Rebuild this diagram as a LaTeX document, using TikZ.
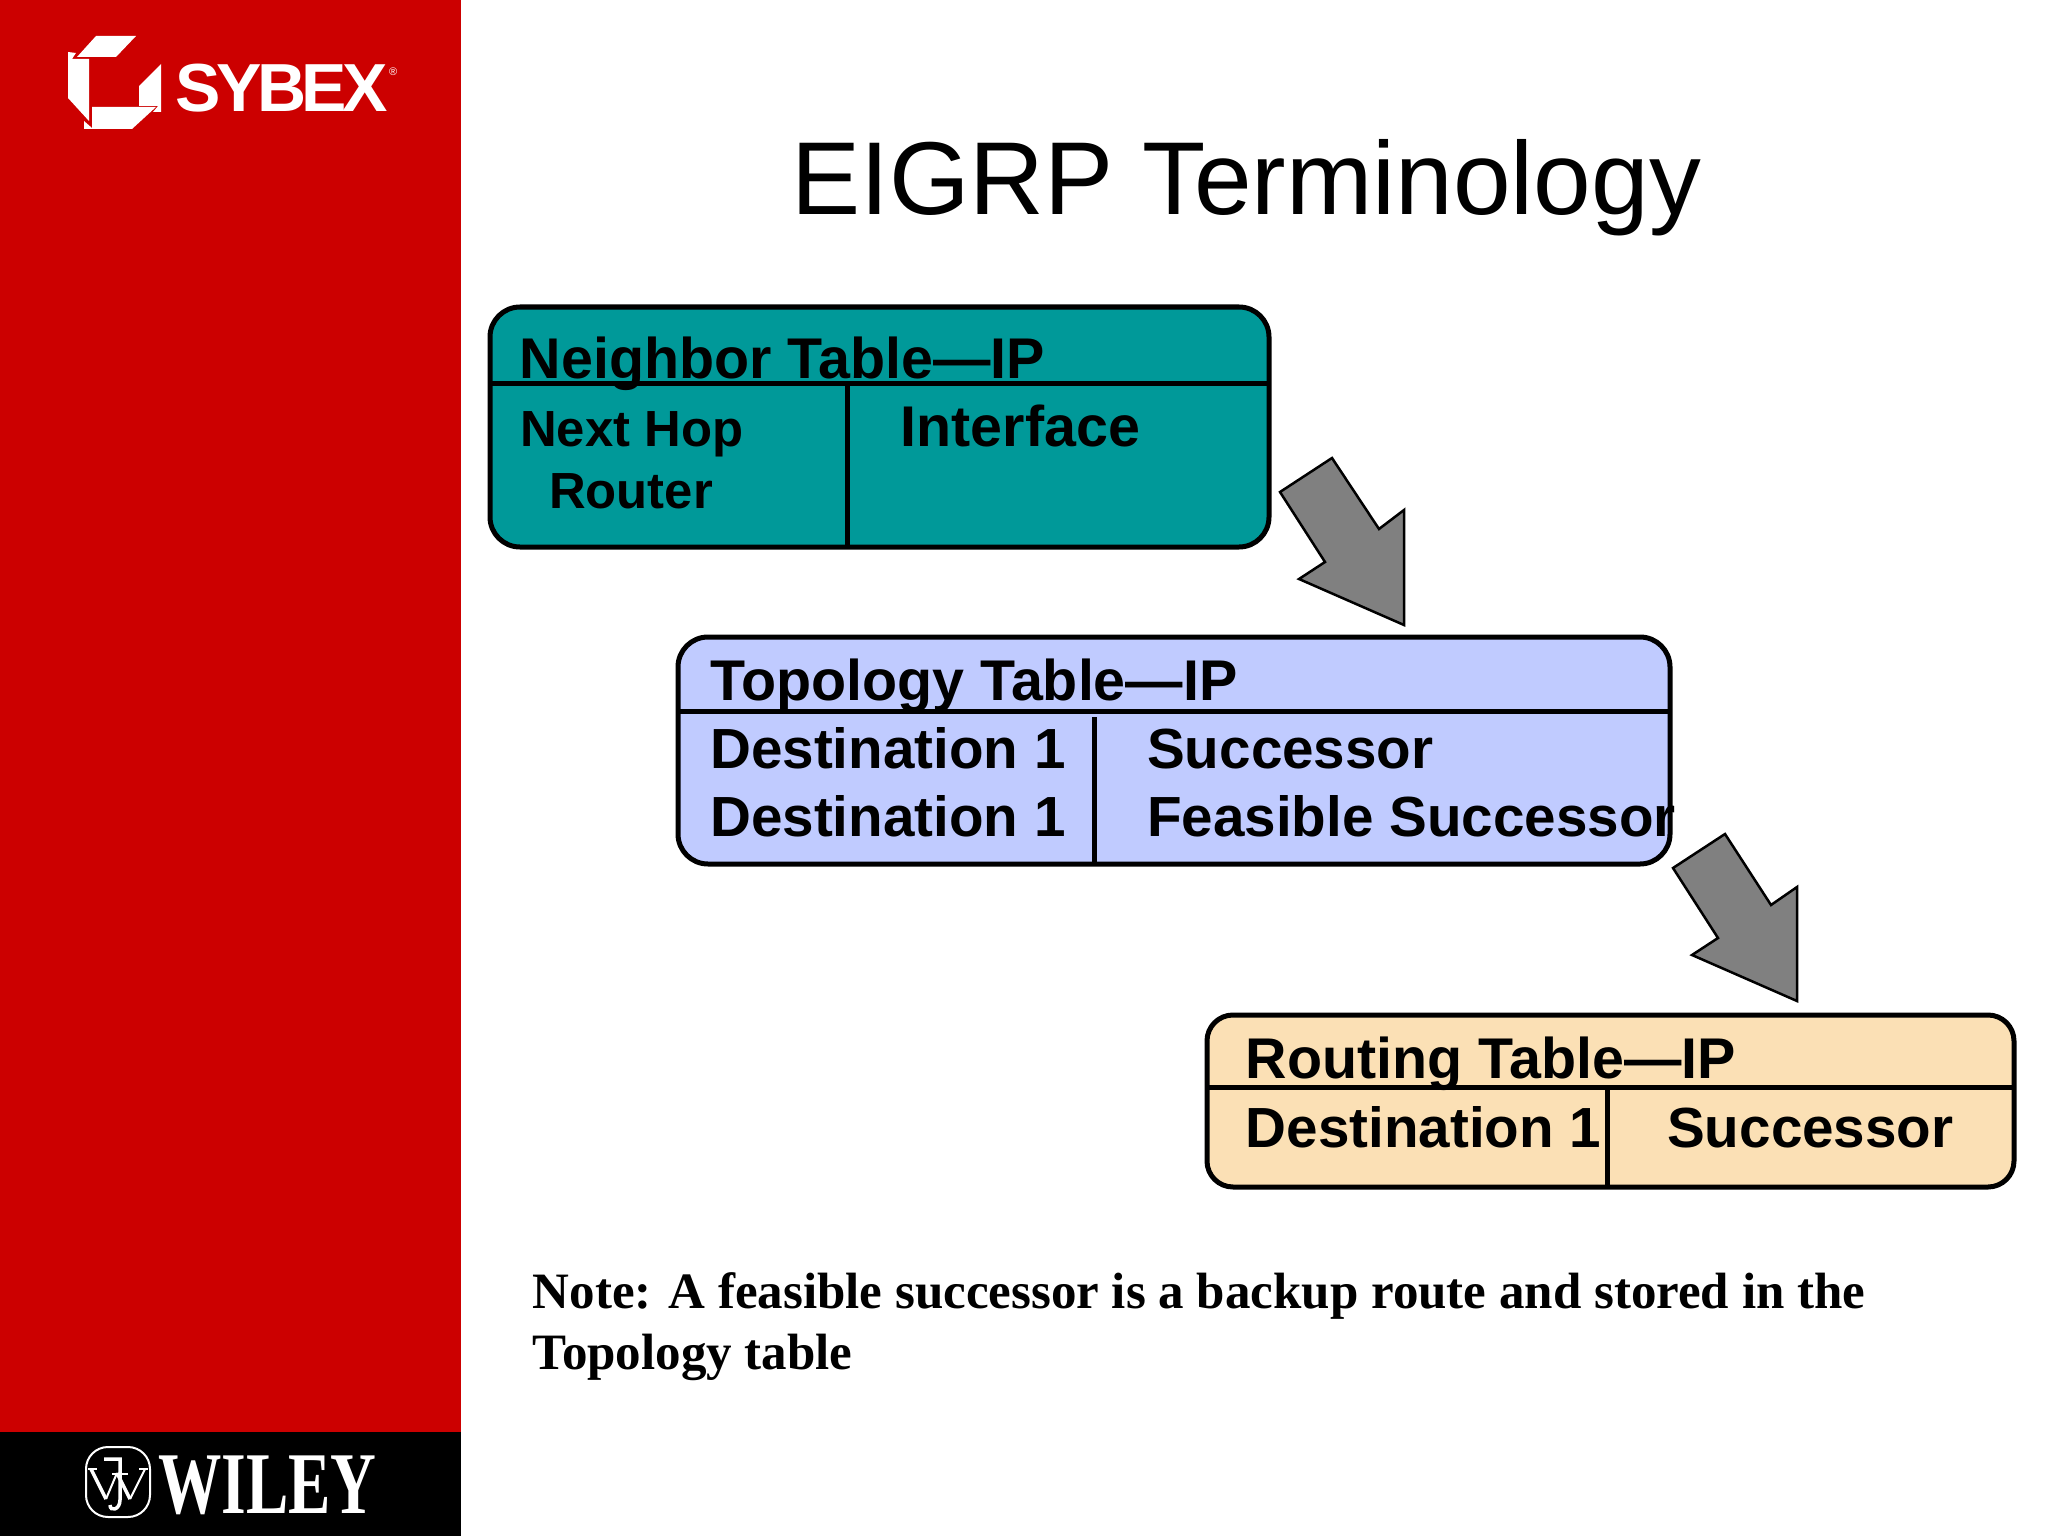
\documentclass[tikz,border=0pt]{standalone}
\usepackage{fontspec}
\setmainfont{Liberation Sans}
\newfontfamily\notefont{Liberation Serif}
\newfontfamily\logofont[LetterSpace=-6.5]{Liberation Sans}
\definecolor{panelred}{HTML}{CC0000}
\definecolor{tealfill}{HTML}{009999}
\definecolor{bluefill}{HTML}{C0CBFF}
\definecolor{tanfill}{HTML}{FBE0B5}
\definecolor{arrowgray}{HTML}{808080}
\tikzset{
	tablebox/.style={draw=black, line width=5bp, rounded corners=30bp, inner sep=0, outer sep=0},
	tablerule/.style={line width=5bp},
	celltext/.style={anchor=base west, inner sep=0, font=\fontsize{56.6bp}{60bp}\selectfont\bfseries},
	headtext/.style={celltext, font=\fontsize{57.4bp}{60bp}\selectfont\bfseries},
	smalltext/.style={celltext, font=\fontsize{50.8bp}{54bp}\selectfont\bfseries},
	notetext/.style={anchor=base west, inner sep=0, font=\fontsize{51bp}{54bp}\selectfont\notefont\bfseries},
	blockarrow/.style={draw=black, line width=2.5bp, fill=arrowgray, line join=miter},
	logoshape/.style={fill=white, draw=none},
	logoline/.style={draw=white, line width=2bp},
	logostem/.style={draw=white, line width=3.5bp}
}
\begin{document}
\begin{tikzpicture}[x=1bp, y=-1bp]
	\useasboundingbox (0,0) rectangle (2048,1536);

	% side panel
	\fill[panelred] (0,0) rectangle (461,1432);
	\fill[black] (0,1432) rectangle (461,1536);

	\fill[logoshape] (96,36) -- (136,36) -- (116,57) -- (77,57) -- cycle;
	\fill[logoshape] (68,52) -- (76,53) -- (72,59) -- (89,59) -- (89,121) -- (68,98) -- cycle;
	\fill[logoshape] (161,64) -- (161,112) -- (153,112) -- (158,106) -- (139,106) -- (139,86) -- cycle;
	\fill[logoshape] (92,107) -- (156,107) -- (132,129) -- (84,129) -- (84,121) -- (92,128) -- cycle;
	\node[anchor=base west, inner sep=0, text=white, font=\fontsize{68bp}{70bp}\selectfont\logofont\bfseries] (sybex) at (175,112) {SYBEX};
	\node[anchor=base west, inner sep=0, text=white, font=\fontsize{11bp}{12bp}\selectfont] (sybexmark) at (389,76) {®};

	\draw[logoline] (118,1447) [rounded corners=22bp] -- (150,1447) -- (150,1517) -- (86,1517) -- (86,1447) -- (118,1447);
	\draw[logostem] (91,1469) -- (106,1499);
	\draw[logostem] (117,1473) -- (130,1499);
	\draw[logoline] (106,1499) -- (117,1473);
	\draw[logoline] (130,1499) -- (145,1469);
	\draw[logoline] (88,1469) -- (97,1469);
	\draw[logoline] (139,1469) -- (148,1469);
	\draw[logostem] (104,1459) -- (120,1459) -- (120,1500) .. controls (120,1510) and (110,1512) .. (110,1505);
	\draw[logoline] (112,1474) -- (128,1474);
	\node[anchor=base west, inner sep=0, text=white, font=\fontsize{88bp}{90bp}\selectfont\notefont\bfseries] (wiley) at (158,1513) {\scalebox{.72}[1]{WILEY}};

	\node[anchor=base west, inner sep=0, font=\fontsize{103.6bp}{106bp}\selectfont] (title) at (791,214) {EIGRP Terminology};

	% neighbor table
	\node[tablebox, fill=tealfill, minimum width=779bp, minimum height=240bp] (neighbor) at (879.5,427) {};
	\draw[tablerule] (490,383) -- (1269,383);
	\draw[tablerule] (847,383) -- (847,547);
	\node[headtext] (neighborhead) at (519.5,378) {Neighbor Table—IP};
	\node[smalltext] (nexthop) at (520,446) {Next Hop};
	\node[smalltext] (router) at (549,508) {Router};
	\node[headtext] (interface) at (900.5,446) {Interface};

	\draw[blockarrow] (1332,458) -- (1280,492) -- (1325,562) -- (1299,579) -- (1404,625) -- (1404,510) -- (1379,529) -- cycle;

	% topology table
	\node[tablebox, fill=bluefill, minimum width=992bp, minimum height=227bp] (topology) at (1174,750.5) {};
	\draw[tablerule] (678,711) -- (1670,711);
	\draw[tablerule] (1094,717) -- (1094,864);
	\node[headtext] (topologyhead) at (710,700) {Topology Table—IP};
	\node[celltext] (destone) at (710,768) {Destination 1};
	\node[celltext] (desttwo) at (710,836) {Destination 1};
	\node[celltext] (succone) at (1147,768) {Successor};
	\node[celltext] (feasible) at (1147,836) {Feasible Successor};

	\draw[blockarrow] (1725,834) -- (1673,868) -- (1718,938) -- (1692,955) -- (1797,1001) -- (1797,887) -- (1771,905) -- cycle;

	% routing table
	\node[tablebox, fill=tanfill, rounded corners=26bp, minimum width=807bp, minimum height=172bp] (routing) at (1610.5,1101) {};
	\draw[tablerule] (1207,1087) -- (2014,1087);
	\draw[tablerule] (1607,1087) -- (1607,1187);
	\node[headtext] (routinghead) at (1245.5,1078) {Routing Table—IP};
	\node[celltext] (destroute) at (1245.5,1147) {Destination 1};
	\node[celltext] (succroute) at (1667,1147) {Successor};

	\node[notetext] (noteone) at (532.5,1308) {Note: A feasible successor is a backup route and stored in the};
	\node[notetext] (notetwo) at (532.5,1369) {Topology table};
\end{tikzpicture}
\end{document}
